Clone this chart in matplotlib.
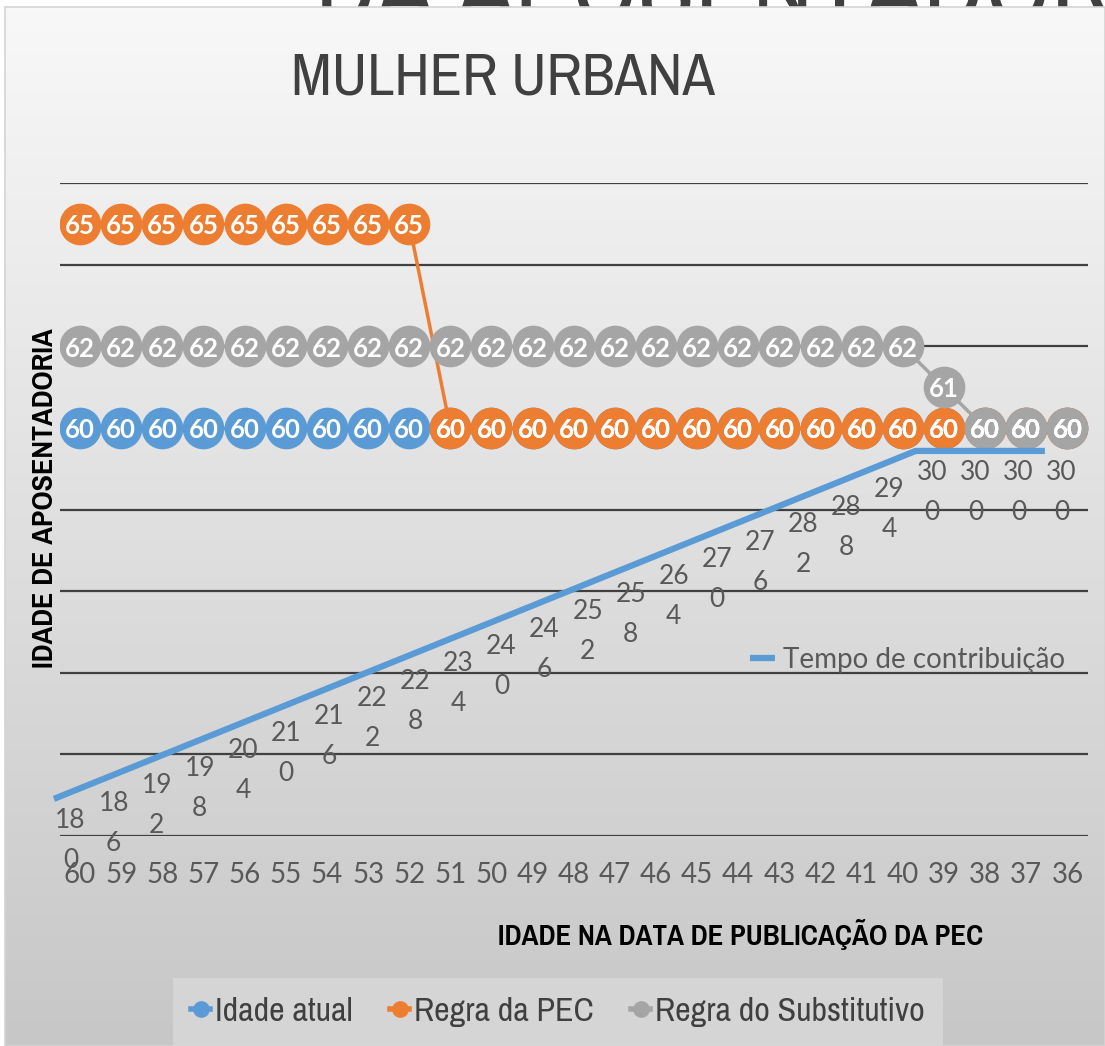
import os
import numpy as np
import matplotlib.pyplot as plt
from matplotlib import font_manager as fm
from matplotlib.colors import LinearSegmentedColormap
from matplotlib.lines import Line2D
from matplotlib.patches import Rectangle

# idade na data de publicação da PEC (eixo x)
idade_publicacao = ["60", "59", "58", "57", "56", "55", "54", "53", "52", "51",
                    "50", "49", "48", "47", "46", "45", "44", "43", "42", "41",
                    "40", "39", "38", "37", "36"]

# idade de aposentadoria por regra
idade_atual = [60, 60, 60, 60, 60, 60, 60, 60, 60, 60, 60, 60, 60,
               60, 60, 60, 60, 60, 60, 60, 60, 60, 60, 60, 60]
regra_pec = [65, 65, 65, 65, 65, 65, 65, 65, 65, 60, 60, 60, 60,
             60, 60, 60, 60, 60, 60, 60, 60, 60, 60, 60, 60]
regra_substitutivo = [62, 62, 62, 62, 62, 62, 62, 62, 62, 62, 62, 62, 62,
                      62, 62, 62, 62, 62, 62, 62, 62, 61, 60, 60, 60]

# tempo de contribuição (meses), eixo secundário
tempo_contribuicao = [180, 186, 192, 198, 204, 210, 216, 222, 228, 234, 240, 246,
                      252, 258, 264, 270, 276, 282, 288, 294, 300, 300, 300, 300]

azul = "#5B9BD5"
laranja = "#ED7D31"
cinza = "#A5A5A5"
plt.rcParams["font.family"] = ["Lato", "DejaVu Sans"]


def fonte_estreita(bold=False):
    # procura uma fonte condensada instalada (parecida com Calibri)
    achadas = []
    for f in fm.fontManager.ttflist:
        nome = os.path.basename(f.fname)
        if not ("Condensed" in nome or "Narrow" in nome):
            continue
        if any(k in nome for k in ("Extra", "Semi", "Ultra", "Italic", "Oblique")):
            continue
        peso = f.weight if isinstance(f.weight, int) else (700 if "bold" in str(f.weight) else 400)
        if (peso >= 600) != bold or nome.endswith("Light.ttf"):
            continue
        achadas.append(f.fname)
    achadas.sort(key=lambda p: ("Narrow" not in p, "Noto" not in p, "DejaVu" not in p, len(p)))
    if achadas:
        return achadas[0]
    return None


def props(size, bold=False):
    caminho = fonte_estreita(bold)
    if caminho:
        return fm.FontProperties(fname=caminho, size=size)
    return fm.FontProperties(family="DejaVu Sans", size=size,
                             weight="bold" if bold else "normal")


fig = plt.figure(figsize=(11.05, 10.46), dpi=100)

# fundo com gradiente (e o título grande cortado no topo)
bg = fig.add_axes([0, 0, 1, 1], zorder=-5)
bg.text(315, 22, "DA APOSENTADORIA", fontproperties=props(75), color="#404040",
        ha="left", va="baseline", zorder=1, clip_on=False)
cmap_bg = LinearSegmentedColormap.from_list("bg", ["#f8f8f8", "#c7c7c7"])
bg.imshow(np.linspace(0, 1, 256).reshape(-1, 1), cmap=cmap_bg, aspect="auto",
          extent=(5, 1105, 1046, 7), origin="upper", zorder=2)
bg.add_patch(Rectangle((5, 7), 1100, 1039, fill=False, ec="#d4d4d4", lw=1.2, zorder=3))
bg.set_xlim(0, 1105)
bg.set_ylim(1046, 0)
bg.axis("off")

# eixo principal
ax = fig.add_axes([59.5 / 1105, 1 - 836 / 1046, (1088 - 59.5) / 1105, (836 - 183.3) / 1046])
ax.patch.set_alpha(0)
x = np.arange(len(idade_publicacao))
ax.set_xlim(-0.5, len(idade_publicacao) - 0.5)
ax.set_ylim(50, 66)
ax.set_yticks(np.arange(50, 67, 2))
ax.yaxis.grid(True, color="#404040", lw=1.6)
ax.set_axisbelow(True)
ax.tick_params(axis="y", left=False, labelleft=False)
ax.set_xticks(x, idade_publicacao)
ax.tick_params(axis="x", bottom=False, labelsize=20, labelcolor="#595959", pad=15)
for s in ax.spines.values():
    s.set_visible(False)

series = [(idade_atual, azul, "Idade atual", 3),
          (regra_pec, laranja, "Regra da PEC", 4),
          (regra_substitutivo, cinza, "Regra do Substitutivo", 5)]
for vals, cor, nome, z in series:
    ax.plot(x, vals, color=cor, lw=2.5, marker="o", ms=29, mec=cor, zorder=z)
    for xi, v in zip(x, vals):
        ax.text(xi, v - 0.05, str(v), color="white", fontsize=18.5, fontweight="bold",
                ha="center", va="center", zorder=z + 3)

# eixo secundário para o tempo de contribuição
ax2 = fig.add_axes(ax.get_position(), frameon=False)
ax2.patch.set_alpha(0)
xt = np.arange(len(tempo_contribuicao))
linha_tempo, = ax2.plot(xt, tempo_contribuicao, color=azul, lw=4.5, clip_on=False,
                        solid_capstyle="butt", label="Tempo de contribuição")
for j, v in zip(xt, tempo_contribuicao):
    s = str(v)
    ax2.annotate(s[:2] + "\n" + s[2:], (j, v), xytext=(12, -30), textcoords="offset points",
                 ha="center", va="center", fontsize=19, color="#595959", linespacing=1.75,
                 annotation_clip=False)
ax2.set_xlim(0.13, 24.0)
ax2.set_ylim(167.2, 392.3)
ax2.axis("off")

fig.legend(handles=[linha_tempo], loc="center left",
           bbox_to_anchor=(725 / 1105, 1 - 660 / 1046), frameon=False,
           fontsize=20, handlelength=0.9, handletextpad=0.3, labelcolor="#595959")

# legenda inferior
handles = [Line2D([], [], color=c, lw=4, marker="o", ms=11, mec=c) for _, c, _, _ in series]
fig.legend(handles, [n for _, _, n, _ in series], loc="center",
           bbox_to_anchor=(558 / 1105, 1 - 1012 / 1046), ncol=3,
           prop=props(24.5), labelcolor="#404040",
           handlelength=0.55, handletextpad=0.15, columnspacing=1.1,
           frameon=True, facecolor="#d9d9d9", edgecolor="none", fancybox=False,
           borderpad=0.55)

# textos
fig.text(503 / 1105, 1 - 78 / 1046, "MULHER URBANA", fontproperties=props(43),
         color="#404040", ha="center", va="center")
fig.text(45 / 1105, 1 - 498 / 1046, "IDADE DE APOSENTADORIA", rotation=90,
         fontproperties=props(23.5, bold=True), color="black", ha="center", va="center")
fig.text(741 / 1105, 1 - 935 / 1046, "IDADE NA DATA DE PUBLICAÇÃO DA PEC",
         fontproperties=props(22.5, bold=True), color="black", ha="center", va="center")

fig.savefig("out.png", dpi=100)
